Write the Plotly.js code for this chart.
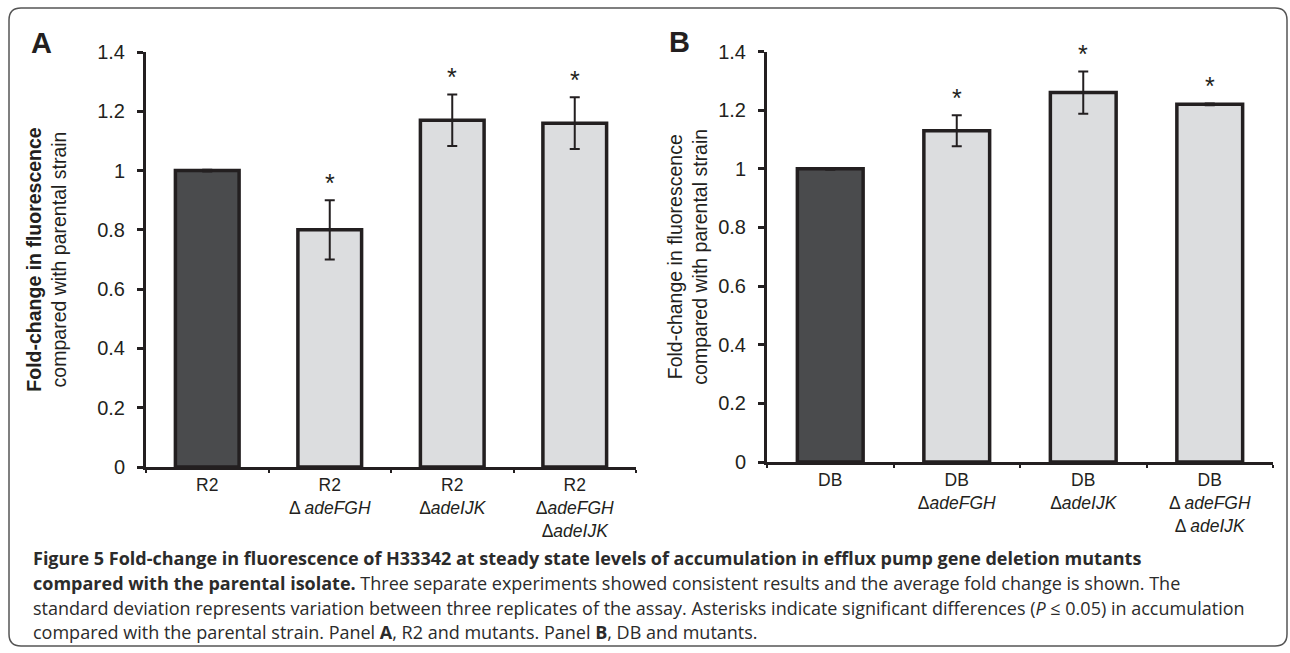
<!DOCTYPE html>
<html>
<head>
<meta charset="utf-8">
<script src="https://cdn.plot.ly/plotly-3.0.1.min.js"></script>
<style>
  html, body { margin: 0; padding: 0; background: #fff; }
  #chart { width: 1290px; height: 653px; }
</style>
</head>
<body>
<div id="chart"></div>
<script>
// ---------- data ----------
const labelsA = ['R2', 'R2<br>Δ <i>adeFGH</i>', 'R2<br>Δ<i>adeIJK</i>', 'R2<br>Δ<i>adeFGH</i><br>Δ<i>adeIJK</i>'];
const meansA  = [1.00, 0.80, 1.17, 1.16];
const sdA     = [0.003, 0.10, 0.087, 0.087];
const sigA    = [false, true, true, true];

const labelsB = ['DB', 'DB<br>Δ<i>adeFGH</i>', 'DB<br>Δ<i>adeIJK</i>', 'DB<br>Δ <i>adeFGH</i><br>Δ <i>adeIJK</i>'];
const meansB  = [1.00, 1.13, 1.26, 1.22];
const sdB     = [0.003, 0.053, 0.072, 0.003];
const sigB    = [false, true, true, true];

const yTicks = [0, 0.2, 0.4, 0.6, 0.8, 1, 1.2, 1.4];
const yTickText = ['0', '0.2', '0.4', '0.6', '0.8', '1', '1.2', '1.4'];

const captionLines = [
  '<b>Figure 5 Fold-change in fluorescence of H33342 at steady state levels of accumulation in efflux pump gene deletion mutants</b>',
  '<b>compared with the parental isolate.</b> Three separate experiments showed consistent results and the average fold change is shown. The',
  'standard deviation represents variation between three replicates of the assay. Asterisks indicate significant differences (<i>P</i> ≤ 0.05) in accumulation',
  'compared with the parental strain. Panel <b>A</b>, R2 and mutants. Panel <b>B</b>, DB and mutants.'
];

// ---------- styling ----------
const W = 1290, H = 653;
const INK = '#231f20';
const DARK = '#4a4b4d';
const LIGHT = '#dcdddf';
const FONT = 'Liberation Sans, Arial, Helvetica, sans-serif';
const px = x => x / W;
const py = y => 1 - y / H;

function barTrace(labels, means, sd, xa, ya) {
  return {
    type: 'bar', x: labels, y: means, xaxis: xa, yaxis: ya,
    width: 0.52,
    marker: { color: labels.map((_, i) => i === 0 ? DARK : LIGHT), line: { color: INK, width: 3.5 } },
    error_y: { type: 'data', array: sd, visible: true, color: INK, thickness: 2, width: 5 },
    showlegend: false, hoverinfo: 'x+y'
  };
}

function starAnnots(labels, means, sd, sig, xa, ya) {
  return labels.map((l, i) => sig[i] ? {
    x: l, y: means[i] + sd[i], xref: xa, yref: ya,
    text: '*', showarrow: false, yanchor: 'middle', yshift: 17,
    font: { family: FONT, size: 25, color: INK }
  } : null).filter(a => a);
}

function yAxis(domain, anchor, titleText, standoff) {
  return {
    domain: domain, anchor: anchor, range: [0, 1.4], fixedrange: true,
    tickvals: yTicks, ticktext: yTickText,
    ticks: 'outside', ticklen: 6, tickwidth: 3, tickcolor: INK,
    ticklabelstandoff: 8,
    showline: true, linewidth: 3, linecolor: INK,
    showgrid: false, zeroline: false,
    tickfont: { family: FONT, size: 20, color: INK },
    title: { text: titleText, font: { family: FONT, size: 19.5, color: INK }, standoff: standoff }
  };
}

function xAxis(domain, anchor) {
  return {
    domain: domain, anchor: anchor, type: 'category', range: [-0.5, 3.5], fixedrange: true,
    tickson: 'boundaries', ticks: 'outside', ticklen: 3, tickwidth: 2, tickcolor: INK,
    showline: true, linewidth: 3, linecolor: INK, showgrid: false,
    tickfont: { family: FONT, size: 17.5, color: INK }
  };
}

const data = [
  barTrace(labelsA, meansA, sdA, 'x', 'y'),
  barTrace(labelsB, meansB, sdB, 'x2', 'y2')
];

// frame (rounded rectangle)
const L = 9, T = 8, R = 1287, B = 646, r = 12;
const framePath =
  `M ${px(L + r)} ${py(T)} L ${px(R - r)} ${py(T)} Q ${px(R)} ${py(T)} ${px(R)} ${py(T + r)} ` +
  `L ${px(R)} ${py(B - r)} Q ${px(R)} ${py(B)} ${px(R - r)} ${py(B)} ` +
  `L ${px(L + r)} ${py(B)} Q ${px(L)} ${py(B)} ${px(L)} ${py(B - r)} ` +
  `L ${px(L)} ${py(T + r)} Q ${px(L)} ${py(T)} ${px(L + r)} ${py(T)} Z`;

const captionY = [558, 583, 608, 632];
const captionAnnots = captionLines.map((t, i) => ({
  xref: 'paper', yref: 'paper', x: px(31), y: py(captionY[i]),
  xanchor: 'left', yanchor: 'middle', showarrow: false, align: 'left',
  text: t, font: { family: 'Open Sans, Noto Sans, sans-serif', size: 18, color: '#2b2b2b' }
}));

const layout = {
  width: W, height: H,
  margin: { l: 0, r: 0, t: 0, b: 0 },
  paper_bgcolor: '#fff', plot_bgcolor: 'rgba(0,0,0,0)',
  bargap: 0.48,
  xaxis: xAxis([px(146), px(636)], 'y'),
  yaxis: yAxis([py(467), py(52)], 'x', '<b>Fold-change in fluorescence</b><br>compared with parental strain', 26),
  xaxis2: xAxis([px(767), px(1273)], 'y2'),
  yaxis2: yAxis([py(462), py(51.5)], 'x2', 'Fold-change in fluorescence<br>compared with parental strain', 6),
  shapes: [{ type: 'path', xref: 'paper', yref: 'paper', path: framePath, line: { color: '#555', width: 1.5 }, fillcolor: 'rgba(0,0,0,0)' }],
  annotations: [
    { xref: 'paper', yref: 'paper', x: px(29), y: py(43), xanchor: 'left', yanchor: 'middle', showarrow: false,
      text: '<b>A</b>', font: { family: FONT, size: 29, color: INK } },
    { xref: 'paper', yref: 'paper', x: px(667), y: py(42), xanchor: 'left', yanchor: 'middle', showarrow: false,
      text: '<b>B</b>', font: { family: FONT, size: 29, color: INK } }
  ].concat(starAnnots(labelsA, meansA, sdA, sigA, 'x', 'y'))
   .concat(starAnnots(labelsB, meansB, sdB, sigB, 'x2', 'y2'))
   .concat(captionAnnots)
};

Plotly.newPlot('chart', data, layout, { displayModeBar: false, staticPlot: true });
</script>
</body>
</html>
